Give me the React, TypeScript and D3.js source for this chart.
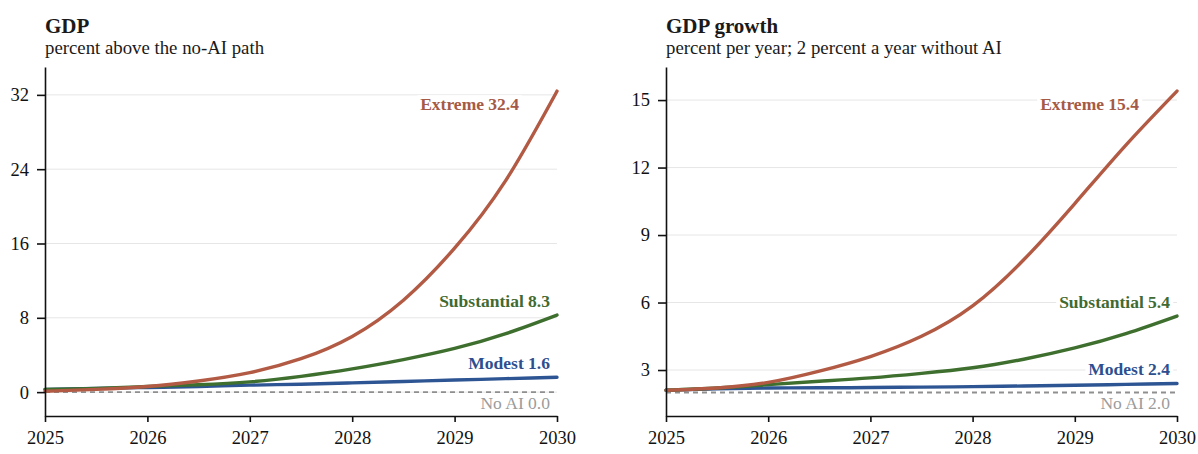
import { useEffect, useRef } from "react";
import * as d3 from "d3";

// half-year sample points, 2025 to 2030
const years = [2025, 2025.5, 2026, 2026.5, 2027, 2027.5, 2028, 2028.5, 2029, 2029.5, 2030];
const yearTicks = [2025, 2026, 2027, 2028, 2029, 2030];

// GDP, percent above the no-AI path
const gdpExtreme = [0.1, 0.3, 0.6, 1.2, 2.1, 3.6, 6.0, 9.9, 15.5, 22.8, 32.4];
const gdpSubstantial = [0.3, 0.4, 0.6, 0.8, 1.1, 1.7, 2.5, 3.5, 4.7, 6.3, 8.3];
const gdpModest = [0.3, 0.4, 0.5, 0.6, 0.75, 0.85, 1.0, 1.15, 1.3, 1.45, 1.6];
const gdpNoAI = [0, 0, 0, 0, 0, 0, 0, 0, 0, 0, 0];
const gdpTicks = [0, 8, 16, 24, 32];

// GDP growth, percent per year
const growthExtreme = [2.1, 2.2, 2.45, 2.95, 3.6, 4.5, 5.85, 7.9, 10.4, 13.0, 15.4];
const growthSubstantial = [2.1, 2.2, 2.35, 2.5, 2.65, 2.85, 3.1, 3.48, 3.98, 4.62, 5.4];
const growthModest = [2.1, 2.17, 2.2, 2.21, 2.22, 2.24, 2.26, 2.29, 2.32, 2.36, 2.4];
const growthNoAI = [2, 2, 2, 2, 2, 2, 2, 2, 2, 2, 2];
const growthTicks = [3, 6, 9, 12, 15];

const FONT = "'Liberation Serif', 'Times New Roman', serif";

type Series = {
  name: string;
  values: number[];
  color: string;
  labelColor: string;
  width: number;
  dash?: string;
  dx: number;
  dy: number;
};

const style = {
  extreme: { color: "#b25a43", labelColor: "#a65a46", width: 3.4, dx: -38, dy: 13 },
  substantial: { color: "#3e6f2e", labelColor: "#3f6a32", width: 3.4, dx: -7, dy: -14 },
  modest: { color: "#2e5593", labelColor: "#2d4f8f", width: 3.4, dx: -7, dy: -14.5 },
  noai: { color: "#8f8f8f", labelColor: "#9b9b9b", width: 1.8, dash: "5,4", dx: -7, dy: 10.5 },
};

function drawPanel(
  svg: d3.Selection<SVGSVGElement, unknown, null, undefined>,
  opts: {
    left: number;
    right: number;
    domain: [number, number];
    ticks: number[];
    title: string;
    subtitle: string;
    series: Series[];
  }
) {
  const top = 67;
  const bottom = 416;
  const x = d3.scaleLinear().domain([2025, 2030]).range([opts.left, opts.right]);
  const y = d3.scaleLinear().domain(opts.domain).range([bottom, top]);

  const g = svg.append("g").attr("font-family", FONT);

  g.append("text")
    .attr("x", opts.left)
    .attr("y", 33)
    .attr("font-size", 21)
    .attr("font-weight", "bold")
    .attr("fill", "#1a1a1a")
    .text(opts.title);
  g.append("text")
    .attr("x", opts.left)
    .attr("y", 54)
    .attr("font-size", 18.8)
    .attr("fill", "#1a1a1a")
    .text(opts.subtitle);

  // gridlines
  g.append("g")
    .selectAll("line")
    .data(opts.ticks)
    .join("line")
    .attr("x1", opts.left)
    .attr("x2", opts.right)
    .attr("y1", (d) => y(d))
    .attr("y2", (d) => y(d))
    .attr("stroke", "#e6e6e6")
    .attr("stroke-width", 1);

  // end labels with white backing
  const labels = g.append("g");
  for (const s of opts.series) {
    const last = s.values[s.values.length - 1];
    const t = labels
      .append("text")
      .attr("x", opts.right + s.dx)
      .attr("y", y(last) + s.dy)
      .attr("dy", "0.35em")
      .attr("text-anchor", "end")
      .attr("font-size", 17.5)
      .attr("font-weight", s.name === "No AI" ? "normal" : "bold")
      .attr("fill", s.labelColor)
      .text(`${s.name} ${last.toFixed(1)}`);
    const b = (t.node() as SVGTextElement).getBBox();
    labels
      .insert("rect", () => t.node())
      .attr("x", b.x - 3)
      .attr("y", b.y + 1)
      .attr("width", b.width + 6)
      .attr("height", b.height - 2)
      .attr("fill", "white");
  }

  // lines
  const line = d3
    .line<number>()
    .x((_, i) => x(years[i]))
    .y((d) => y(d))
    .curve(d3.curveNatural);

  for (const s of opts.series) {
    g.append("path")
      .datum(s.values)
      .attr("d", line)
      .attr("fill", "none")
      .attr("stroke", s.color)
      .attr("stroke-width", s.width)
      .attr("stroke-dasharray", s.dash ?? null)
      .attr("stroke-linecap", s.dash ? "butt" : "round");
  }

  // axes
  const yAxis = g
    .append("g")
    .attr("transform", `translate(${opts.left},0)`)
    .call(d3.axisLeft(y).tickValues(opts.ticks).tickSize(8).tickPadding(8).tickSizeOuter(0));
  const xAxis = g
    .append("g")
    .attr("transform", `translate(0,${bottom})`)
    .call(
      d3
        .axisBottom(x)
        .tickValues(yearTicks)
        .tickFormat(d3.format("d"))
        .tickSize(6)
        .tickPadding(9)
        .tickSizeOuter(0)
    );
  for (const ax of [yAxis, xAxis]) {
    ax.attr("font-family", FONT).attr("font-size", 18.5);
    ax.selectAll("path, line").attr("stroke", "#111").attr("stroke-width", 1.6);
    ax.selectAll("text").attr("fill", "#111");
  }
}

export default function App() {
  const svgRef = useRef<SVGSVGElement>(null);

  useEffect(() => {
    document.body.style.margin = "0";
    const svg = d3.select(svgRef.current!);
    svg.selectAll("*").remove();

    drawPanel(svg, {
      left: 45,
      right: 557,
      domain: [-2.57, 35],
      ticks: gdpTicks,
      title: "GDP",
      subtitle: "percent above the no-AI path",
      series: [
        { name: "No AI", values: gdpNoAI, ...style.noai },
        { name: "Modest", values: gdpModest, ...style.modest },
        { name: "Substantial", values: gdpSubstantial, ...style.substantial },
        { name: "Extreme", values: gdpExtreme, ...style.extreme },
      ],
    });

    drawPanel(svg, {
      left: 666,
      right: 1177,
      domain: [0.956, 16.47],
      ticks: growthTicks,
      title: "GDP growth",
      subtitle: "percent per year; 2 percent a year without AI",
      series: [
        { name: "No AI", values: growthNoAI, ...style.noai },
        { name: "Modest", values: growthModest, ...style.modest },
        { name: "Substantial", values: growthSubstantial, ...style.substantial },
        { name: "Extreme", values: growthExtreme, ...style.extreme },
      ],
    });

    return () => {
      svg.selectAll("*").remove();
    };
  }, []);

  return (
    <svg
      ref={svgRef}
      width={1198}
      height={454}
      style={{ display: "block", background: "white" }}
    />
  );
}
